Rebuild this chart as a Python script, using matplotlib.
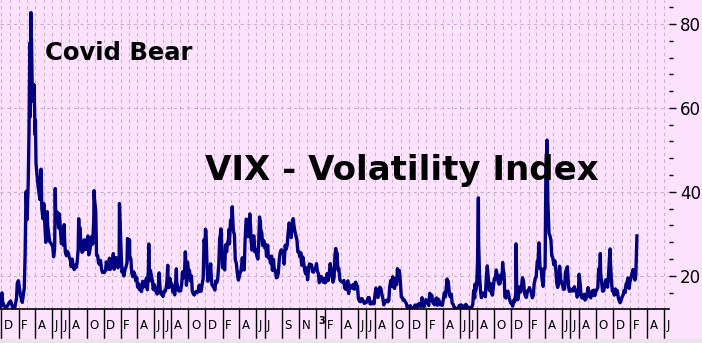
import pandas as pd
import matplotlib
matplotlib.use('Agg')
import matplotlib.pyplot as plt
import matplotlib.dates as mdates
import matplotlib.transforms as mtransforms
from matplotlib.ticker import FixedLocator, MultipleLocator
from matplotlib.patches import Rectangle

PINK = '#FDE2FD'
NAVY = '#000080'
GRID = '#C8B4C8'

# weekly (friday) closes
w2019 = [12.62, 13.62, 12.63, 12.51, 13.43]
w2020 = [14.02, 12.56, 12.10, 14.56, 18.84, 15.47, 13.68, 17.08, 40.11, 41.94,
         57.83, 66.04, 65.54, 46.80, 41.67, 38.15, 35.93, 37.19, 27.98, 31.89,
         28.16, 27.51, 24.52, 36.09, 35.12, 34.73, 27.68, 27.29, 25.68, 25.84,
         24.46, 22.21, 22.05, 22.54, 22.96, 30.75, 26.87, 25.83, 26.38, 27.63,
         25.00, 27.41, 27.55, 38.02, 24.86, 23.10, 23.70, 20.84, 20.79, 23.31,
         21.57, 21.53]
w2021 = [22.75, 21.56, 24.34, 21.91, 33.09, 20.87, 19.97, 22.05, 27.95, 24.66,
         20.69, 20.95, 18.86, 17.33, 16.69, 16.25, 17.33, 18.61, 16.69, 18.81,
         20.15, 16.76, 16.42, 15.65, 20.70, 15.62, 15.07, 16.18, 18.45, 17.20,
         18.24, 16.15, 15.45, 18.56, 16.39, 16.41, 20.95, 20.81, 17.75, 21.15,
         18.77, 16.30, 15.43, 16.26, 16.48, 16.29, 17.91, 28.62, 30.67, 18.69,
         21.57, 17.96, 17.22]
w2022 = [18.76, 19.19, 28.85, 27.66, 22.82, 27.36, 27.75, 27.59, 31.98, 30.75,
         23.87, 20.81, 19.63, 21.16, 22.70, 28.21, 33.40, 30.19, 28.87, 29.43,
         25.72, 24.79, 27.75, 31.13, 27.23, 26.70, 24.64, 24.23, 23.03, 21.33,
         21.15, 19.53, 20.60, 25.56, 25.47, 22.79, 26.30, 29.92, 31.62, 31.36,
         32.02, 29.69, 25.75, 24.55, 22.52, 23.12, 20.50, 19.06, 22.83, 22.62,
         20.87, 21.67]
w2023 = [21.13, 18.35, 19.85, 18.51, 18.33, 20.53, 20.02, 21.67, 18.49, 24.80,
         25.51, 21.74, 18.70, 18.40, 17.07, 16.77, 15.78, 17.19, 17.03, 16.81,
         17.95, 14.60, 13.83, 14.50, 13.44, 13.59, 14.83, 13.34, 13.60, 13.33,
         17.10, 14.84, 17.30, 15.68, 13.09, 13.84, 13.79, 17.20, 17.52, 17.45,
         19.32, 21.71, 21.27, 14.91, 14.17, 13.80, 12.46, 12.63, 12.35, 12.28,
         13.03, 12.45]
w2024 = [13.35, 12.70, 13.30, 13.26, 13.85, 12.93, 14.24, 13.75, 13.11, 14.74,
         14.41, 13.06, 13.01, 16.03, 17.31, 18.71, 15.03, 13.49, 12.55, 11.99,
         11.93, 12.92, 12.22, 12.66, 13.20, 12.44, 12.48, 12.46, 16.52, 16.39,
         23.39, 20.37, 14.80, 15.86, 15.00, 22.38, 16.56, 16.15, 16.96, 19.21,
         20.46, 18.03, 20.33, 21.88, 14.94, 16.14, 15.24, 13.51, 12.77, 13.81,
         18.36, 15.95]
w2025 = [16.13, 19.54, 15.97, 14.85, 16.43, 16.54, 14.77, 18.21, 19.63, 23.37,
         21.77, 19.28, 21.65, 45.31, 37.56, 29.65, 24.84, 22.68, 21.90, 17.24,
         22.29, 18.57, 16.77, 20.82, 22.17, 16.32, 16.38, 16.40, 16.41, 14.93,
         20.38, 15.15, 15.09, 14.22, 15.36, 15.18, 14.76, 15.45, 15.29, 16.65,
         21.66, 20.78, 16.37, 17.44, 19.08, 19.83, 23.43, 16.35, 15.41, 15.74,
         14.91, 13.60]
w2026 = [15.0, 16.5, 18.0, 19.5, 18.5, 20.5, 21.0, 20.0]

# tuesday closes from june 2020 on, they give the daily line its raggedness
t2020 = [26.8, 27.6, 33.7, 31.4, 30.4, 29.4, 29.5, 24.8, 25.4, 23.8,
         24.0, 21.5, 22.0, 26.1, 31.5, 25.6, 26.9, 26.3, 29.5, 26.1,
         29.4, 33.4, 35.5, 24.8, 22.7, 21.6, 20.8, 21.3, 22.3, 24.2,
         23.1]
t2021 = [25.3, 23.3, 23.2, 23.0, 25.6, 21.6, 21.5, 23.1, 24.1, 24.0,
         19.8, 20.3, 19.6, 18.1, 16.7, 18.7, 17.6, 19.5, 21.8, 21.3,
         18.8, 17.9, 17.1, 17.0, 16.7, 16.0, 16.4, 17.0, 19.7, 19.4,
         18.0, 16.8, 18.9, 17.2, 16.5, 18.0, 19.5, 24.4, 23.3, 21.3,
         20.0, 15.7, 16.0, 16.0, 17.8, 16.4, 19.4, 27.2, 21.9, 21.9,
         21.0, 17.5]
t2022 = [16.6, 18.4, 22.8, 31.2, 21.9, 21.4, 25.7, 28.8, 33.3, 35.1,
         29.8, 22.9, 19.0, 21.0, 24.3, 21.4, 33.5, 29.3, 32.9, 26.1,
         29.5, 26.2, 24.0, 33.0, 30.2, 28.4, 27.5, 27.3, 24.5, 24.7,
         23.9, 21.3, 19.7, 24.1, 26.2, 25.8, 27.3, 27.2, 32.6, 29.1,
         33.6, 30.5, 28.5, 25.8, 25.5, 24.5, 21.2, 21.9, 22.0, 22.6,
         21.0, 21.7]
t2023 = [22.9, 20.5, 19.4, 19.2, 19.4, 18.7, 18.9, 22.9, 20.7, 19.6,
         23.7, 21.4, 19.0, 18.6, 18.9, 16.8, 18.8, 17.8, 17.7, 18.0,
         18.5, 17.5, 14.0, 14.6, 13.9, 13.7, 14.2, 14.8, 13.3, 13.9,
         15.7, 16.0, 16.5, 16.9, 14.5, 14.0, 14.2, 14.1, 18.9, 19.8,
         17.0, 17.9, 19.0, 18.1, 14.8, 14.2, 13.4, 12.7, 12.9, 12.1,
         12.5, 13.0]
t2024 = [13.2, 12.8, 14.8, 12.6, 14.35, 13.7, 15.85, 15.4, 13.4, 14.5,
         13.0, 13.8, 13.2, 14.6, 15.0, 18.4, 15.7, 15.65, 13.2, 12.4,
         11.9, 12.9, 13.1, 12.85, 12.3, 12.8, 12.0, 12.4, 13.2, 14.7,
         17.7, 27.7, 16.1, 15.9, 15.4, 20.2, 19.1, 18.2, 15.4, 19.3,
         21.4, 18.6, 18.2, 19.3, 20.5, 14.7, 16.35, 14.1, 13.3, 14.2,
         15.9, 14.3, 17.35]
t2025 = [17.8, 18.7, 15.1, 16.4, 17.2, 16.0, 15.35, 19.4, 23.5, 26.9,
         21.7, 17.5, 21.8, 52.3, 30.1, 28.5, 24.2, 23.6, 18.2, 18.1,
         18.96, 17.7, 16.9, 21.6, 17.5, 16.8, 16.8, 17.4, 16.5, 15.98,
         17.85, 14.7, 15.6, 14.6, 17.2, 15.0, 16.4, 16.6, 16.3, 17.2,
         20.8, 18.2, 16.4, 19.0, 17.3, 24.7, 18.6, 16.6, 16.9, 16.5,
         14.0, 14.3]
t2026 = [15.5, 16.0, 18.5, 17.0, 19.5, 21.5, 19.0]

# single days with spikes between the weekly points
spike_days = ['2019-11-26', '2019-12-03', '2020-01-27', '2020-02-24', '2020-02-27',
              '2020-03-02', '2020-03-09', '2020-03-12', '2020-03-16', '2020-03-17',
              '2020-03-18', '2020-03-23', '2020-03-31', '2020-04-01', '2020-04-21',
              '2020-04-28', '2020-05-13', '2020-06-08', '2020-06-11', '2020-06-15',
              '2020-06-24', '2020-07-13', '2020-09-03', '2020-09-08', '2020-09-23',
              '2020-10-27', '2020-10-28', '2020-11-03', '2021-01-27', '2021-02-25',
              '2021-03-04', '2021-05-12', '2021-07-19', '2021-08-19', '2021-09-20',
              '2021-09-28', '2021-11-30', '2021-12-01', '2021-12-20', '2022-01-24',
              '2022-01-27', '2022-02-23', '2022-03-07', '2022-05-09', '2022-05-12',
              '2022-06-13', '2022-06-16', '2022-09-27', '2022-10-12', '2023-03-13',
              '2023-10-03', '2024-04-15', '2024-07-24', '2024-08-05', '2024-08-06',
              '2024-10-31', '2024-12-18', '2024-12-19', '2025-03-10', '2025-04-08',
              '2025-10-16', '2025-11-20', '2026-02-24']
spike_vals = [13.5, 15.96, 18.23, 25.03, 39.16,
              33.42, 54.46, 75.47, 82.69, 75.91,
              76.45, 61.59, 53.54, 57.06, 45.41,
              33.57, 35.28, 25.81, 40.79, 34.40,
              33.84, 32.19, 33.60, 31.46, 28.58,
              33.35, 40.28, 35.55, 37.21, 28.89,
              28.57, 27.59, 22.50, 21.67, 25.71,
              23.25, 27.19, 31.12, 22.87, 29.90,
              30.49, 31.02, 36.45, 34.75, 31.77,
              34.02, 32.95, 32.60, 33.57, 26.52,
              19.78, 19.23, 18.04, 38.57, 27.71,
              23.16, 27.62, 24.09, 27.86, 52.33,
              25.31, 26.40, 29.5]

# month boxes along the bottom
box_months = ['2019-12', '2020-02', '2020-04', '2020-06', '2020-07', '2020-08', '2020-10', '2020-12',
              '2021-02', '2021-04', '2021-06', '2021-07', '2021-08', '2021-10', '2021-12',
              '2022-02', '2022-04', '2022-06', '2022-07', '2022-09', '2022-11',
              '2023-01', '2023-02', '2023-04', '2023-06', '2023-07', '2023-08', '2023-10', '2023-12',
              '2024-02', '2024-04', '2024-06', '2024-07', '2024-08', '2024-10', '2024-12',
              '2025-02', '2025-04', '2025-06', '2025-07', '2025-08', '2025-10', '2025-12',
              '2026-02', '2026-04', '2026-06']
box_labels = ['D', 'F', 'A', 'J', 'J', 'A', 'O', 'D',
              'F', 'A', 'J', 'J', 'A', 'O', 'D',
              'F', 'A', 'J', 'J', 'S', 'N',
              '3', 'F', 'A', 'J', 'J', 'A', 'O', 'D',
              'F', 'A', 'J', 'J', 'A', 'O', 'D',
              'F', 'A', 'J', 'J', 'A', 'O', 'D',
              'F', 'A', 'J']

y_ticks = [20, 40, 60, 80]

weekly = w2019 + w2020 + w2021 + w2022 + w2023 + w2024 + w2025 + w2026
fridays = pd.date_range('2019-11-29', periods=len(weekly), freq='W-FRI')
tues = t2020 + t2021 + t2022 + t2023 + t2024 + t2025 + t2026
tuesdays = pd.date_range('2020-06-02', periods=len(tues), freq='W-TUE')
df = pd.concat([
    pd.DataFrame({'date': fridays, 'vix': weekly}),
    pd.DataFrame({'date': tuesdays, 'vix': tues}),
    pd.DataFrame({'date': pd.to_datetime(spike_days), 'vix': spike_vals}),
]).drop_duplicates('date', keep='last').sort_values('date')

W, H = 702, 343
x0, x1 = pd.Timestamp('2019-11-26'), pd.Timestamp('2026-06-19')

fig = plt.figure(figsize=(W / 100, H / 100), dpi=100, facecolor=PINK)

ax = fig.add_axes([0, 34 / H, 669 / W, 309 / H])
ax.set_facecolor(PINK)
ax.plot(df['date'], df['vix'], color=NAVY, lw=2.4, solid_joinstyle='round')
ax.set_xlim(x0, x1)
ax.set_ylim(12.1, 85.7)

ax.yaxis.tick_right()
ax.yaxis.set_major_locator(FixedLocator(y_ticks))
ax.yaxis.set_minor_locator(MultipleLocator(4))
ax.tick_params(axis='y', which='major', length=5, width=1, pad=3, labelsize=12)
ax.tick_params(axis='y', which='minor', length=3, width=1)
ax.xaxis.set_major_locator(mdates.MonthLocator())
ax.tick_params(axis='x', which='both', length=0, labelbottom=False)
ax.grid(axis='x', which='major', color=GRID, lw=0.8, ls=(0, (3, 3)))
ax.grid(axis='y', which='major', color=GRID, lw=0.8, ls=(0, (3, 3)))
for s in ax.spines.values():
    s.set_visible(False)

# month letter boxes
axl = fig.add_axes([0, 4 / H, 669 / W, 30 / H])
axl.set_facecolor(PINK)
axl.set_xlim(x0, x1)
axl.set_ylim(0, 1)
axl.axis('off')
axl.axhline(1, color='black', lw=1.2, clip_on=False)
sep = pd.to_datetime(box_months)
axl.vlines(sep, 0, 1, color='black', lw=1)
shift = mtransforms.offset_copy(axl.transData, fig=fig, x=2.5, y=0, units='dots')
for d, t in zip(sep, box_labels):
    if t == '3':
        axl.text(d, 0.78, t, transform=shift, fontsize=7, fontweight='bold', va='top')
    else:
        axl.text(d, 0.45, t, transform=shift, fontsize=8.5, va='center')

fig.patches.append(Rectangle((0, 0), 1, 4 / H, transform=fig.transFigure,
                             color='#E6E6E6', zorder=0))

fig.text(45 / W, 1 - 60 / H, 'Covid Bear', fontsize=17.5, fontweight='bold', va='baseline')
fig.text(205 / W, 1 - 180 / H, 'VIX - Volatility Index', fontsize=24.5,
         fontweight='bold', va='baseline')

fig.savefig('out.png', dpi=100, facecolor=PINK)
